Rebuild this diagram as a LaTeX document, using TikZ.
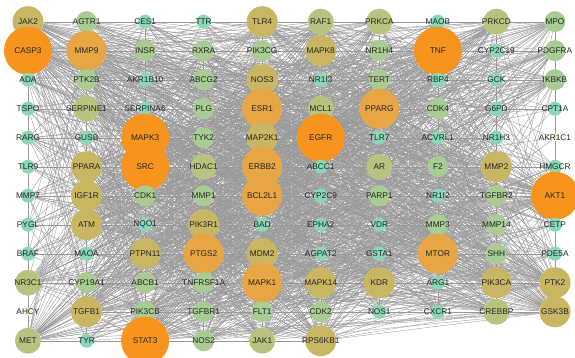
\documentclass[tikz,border=0pt]{standalone}
\usepackage{fontspec}
\setmainfont{Liberation Sans}
\usepackage{tikz}
\usetikzlibrary{backgrounds}
\definecolor{c0}{HTML}{F4F1CC}
\definecolor{c1}{HTML}{88D7B5}
\definecolor{c2}{HTML}{A8CC92}
\definecolor{c3}{HTML}{B7C47F}
\definecolor{c4}{HTML}{C9B663}
\definecolor{c5}{HTML}{E8A543}
\definecolor{c6}{HTML}{F7941D}
\newcommand\gsize[1]{\ifcase#1 8\or 14\or 21\or 26\or 31\or 40\or 48\fi}
\newcommand\gweight[1]{\ifcase#1 3\or 12\or 25\or 38\or 52\or 70\or 95\fi}
\tikzstyle{genebox}=[circle,inner sep=0pt,draw=none]
\tikzstyle{genelabel}=[inner sep=0pt,text=black!85,font=\fontsize{8.3}{8.3}\selectfont]
\tikzstyle{edgepath}=[line width=0.35pt,draw=gray!80]

\begin{document}
\begin{tikzpicture}[x=1pt,y=-1pt]
    \useasboundingbox (0,0) rectangle (575,357);
    % genes: name/column/row/degree class
    \foreach \nm/\cx/\ry/\k [count=\i] in {
        JAK2/1/1/4, AGTR1/2/1/2, CES1/3/1/1, TTR/4/1/1, TLR4/5/1/4, RAF1/6/1/3, PRKCA/7/1/3, MAOB/8/1/1, PRKCD/9/1/3, MPO/10/1/2,
        CASP3/1/2/6, MMP9/2/2/5, INSR/3/2/2, RXRA/4/2/2, PIK3CG/5/2/2, MAPK8/6/2/4, NR1H4/7/2/2, TNF/8/2/6, CYP2C19/9/2/1, PDGFRA/10/2/2,
        ADA/1/3/1, PTK2B/2/3/2, AKR1B10/3/3/1, ABCG2/4/3/2, NOS3/5/3/4, NR1I3/6/3/1, TERT/7/3/2, RBP4/8/3/1, GCK/9/3/1, IKBKB/10/3/2,
        TSPO/1/4/1, SERPINE1/2/4/3, SERPINA6/3/4/1, PLG/4/4/2, ESR1/5/4/5, MCL1/6/4/3, PPARG/7/4/5, CDK4/8/4/2, G6PD/9/4/1, CPT1A/10/4/1,
        RARG/1/5/1, GUSB/2/5/1, MAPK3/3/5/6, TYK2/4/5/2, MAP2K1/5/5/4, EGFR/6/5/6, TLR7/7/5/1, ACVRL1/8/5/1, NR1H3/9/5/1, AKR1C1/10/5/0,
        TLR9/1/6/1, PPARA/2/6/4, SRC/3/6/6, HDAC1/4/6/3, ERBB2/5/6/5, ABCC1/6/6/1, AR/7/6/3, F2/8/6/2, MMP2/9/6/4, HMGCR/10/6/1,
        MMP7/1/7/1, IGF1R/2/7/4, CDK1/3/7/2, MMP1/4/7/2, BCL2L1/5/7/5, CYP2C9/6/7/1, PARP1/7/7/2, NR1I2/8/7/1, TGFBR2/9/7/2, AKT1/10/7/6,
        PYGL/1/8/1, ATM/2/8/4, NQO1/3/8/1, PIK3R1/4/8/4, BAD/5/8/1, EPHA2/6/8/1, VDR/7/8/1, MMP3/8/8/2, MMP14/9/8/2, CETP/10/8/1,
        BRAF/1/9/1, MAOA/2/9/1, PTPN11/3/9/4, PTGS2/4/9/5, MDM2/5/9/4, AGPAT2/6/9/1, GSTA1/7/9/1, MTOR/8/9/5, SHH/9/9/2, PDE5A/10/9/1,
        NR3C1/1/10/3, CYP19A1/2/10/2, ABCB1/3/10/2, TNFRSF1A/4/10/2, MAPK1/5/10/5, MAPK14/6/10/4, KDR/7/10/4, ARG1/8/10/1, PIK3CA/9/10/4, PTK2/10/10/4,
        AHCY/1/11/0, TGFB1/2/11/4, PIK3CB/3/11/2, TGFBR1/4/11/2, FLT1/5/11/2, CDK2/6/11/2, NOS1/7/11/1, CXCR1/8/11/1, CREBBP/9/11/3, GSK3B/10/11/4,
        MET/1/12/3, TYR/2/12/1, STAT3/3/12/6, NOS2/4/12/2, JAK1/5/12/3, RPS6KB1/6/12/4}
    {
        \pgfmathsetmacro\px{28+58.55*(\cx-1)}
        \pgfmathsetmacro\py{21.7+29*(\ry-1)}
        \edef\dd{\gsize{\k}}
        \node[genebox, fill=c\k, minimum size=\dd pt] (\nm) at (\px,\py) {};
        \expandafter\xdef\csname gn\i\endcsname{\nm}
        \expandafter\xdef\csname gw\i\endcsname{\gweight{\k}}
    }

    % labels on top
    \foreach \i in {1,...,116}{
        \edef\na{\csname gn\i\endcsname}
        \node[genelabel] (\na-t) at (\na) {\na};
    }

    % interactions
    \begin{scope}[on background layer]
        \pgfmathsetseed{2024}
        \foreach \i in {1,...,115}{
            \pgfmathtruncatemacro\jstart{\i+1}
            \foreach \j in {\jstart,...,116}{
                \pgfmathrandominteger{\rr}{0}{999}
                \ifnum\rr<\numexpr\csname gw\i\endcsname*\csname gw\j\endcsname/3\relax
                    \edef\na{\csname gn\i\endcsname}
                    \edef\nb{\csname gn\j\endcsname}
                    \draw[edgepath] (\na) -- (\nb);
                \fi
            }
        }
    \end{scope}
\end{tikzpicture}
\end{document}
